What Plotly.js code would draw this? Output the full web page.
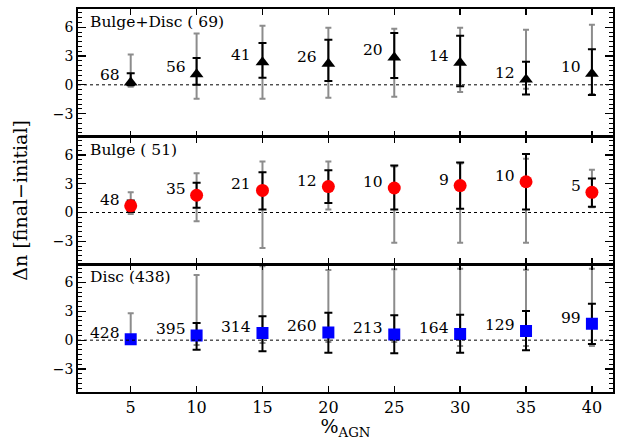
<!DOCTYPE html>
<html><head><meta charset="utf-8">
<script src="https://cdn.plot.ly/plotly-3.0.1.min.js"></script>
<style>html,body{margin:0;padding:0;background:#fff}#chart{width:618px;height:440px}</style>
</head><body><div id="chart"></div>
<script>
const xVals = [5, 10, 15, 20, 25, 30, 35, 40];

// Bulge+Disc (top panel)
const bdY      = [0.25, 1.1, 2.35, 2.2, 2.85, 2.3, 0.55, 1.15];
const bdBlkHi  = [1.2, 2.8, 4.35, 4.7, 5.4, 5.1, 2.4, 3.7];
const bdBlkLo  = [-0.05, 0.0, 0.75, 0.4, 0.7, -0.15, -1.0, -1.05];
const bdGryHi  = [3.15, 5.35, 6.15, 5.95, 5.85, 5.95, 5.75, 6.25];
const bdGryLo  = [-0.2, -1.45, -1.45, -1.35, -1.25, -0.75, -0.4, -0.95];
const bdN      = [68, 56, 41, 26, 20, 14, 12, 10];

// Bulge (middle panel)
const bY       = [0.7, 1.8, 2.3, 2.7, 2.55, 2.8, 3.2, 2.1];
const bBlkHi   = [1.25, 3.1, 4.2, 4.4, 4.9, 5.2, 6.1, 3.55];
const bBlkLo   = [0.05, 0.5, 0.3, 1.0, 0.3, 0.4, 0.3, 0.6];
const bGryHi   = [2.1, 4.1, 5.3, 5.3, 4.8, 5.1, 5.6, 4.45];
const bGryLo   = [-0.15, -0.9, -3.7, 0.3, -3.15, -3.15, -3.15, 0.55];
const bN       = [48, 35, 21, 12, 10, 9, 10, 5];

// Disc (bottom panel)
const dY       = [0.1, 0.5, 0.75, 0.8, 0.6, 0.65, 0.95, 1.7];
const dBlkHi   = [0.4, 1.8, 2.5, 2.85, 2.6, 2.65, 3.05, 3.8];
const dBlkLo   = [-0.3, -1.0, -1.15, -1.3, -1.35, -1.3, -1.05, -0.4];
const dGryHi   = [2.8, 6.8, 7.7, 7.3, 7.4, 7.45, 7.35, 7.45];
const dGryLo   = [-0.3, -0.5, -0.3, -0.2, -0.2, -0.6, -0.6, -0.6];
const dN       = [428, 395, 314, 260, 213, 164, 129, 99];

const panelTitles = ['Bulge+Disc ( 69)', 'Bulge ( 51)', 'Disc (438)'];
const yTickVals = [-3, 0, 3, 6];

const FONT = 'DejaVu Serif, Liberation Serif, serif';
const GRAY = '#8c8c8c';

const panels = [
  {y: bdY, bh: bdBlkHi, bl: bdBlkLo, gh: bdGryHi, gl: bdGryLo, n: bdN, sym: 'triangle-up', col: '#000000', size: 12, xa: 'x3', ya: 'y3', ys: 7},
  {y: bY,  bh: bBlkHi,  bl: bBlkLo,  gh: bGryHi,  gl: bGryLo,  n: bN,  sym: 'circle', col: '#ff0000', size: 13, xa: 'x2', ya: 'y2', ys: 6},
  {y: dY,  bh: dBlkHi,  bl: dBlkLo,  gh: dGryHi,  gl: dGryLo,  n: dN,  sym: 'square', col: '#0000ff', size: 12, xa: 'x', ya: 'y', ys: 6}
];

const traces = [];
const annotations = [];
const shapes = [];
panels.forEach((p, k) => {
  traces.push({
    x: xVals, y: p.y, xaxis: p.xa, yaxis: p.ya, type: 'scatter', mode: 'markers',
    marker: {size: 1, color: 'rgba(0,0,0,0)'}, hoverinfo: 'skip', showlegend: false,
    error_y: {type: 'data', symmetric: false,
      array: p.gh.map((v, i) => v - p.y[i]),
      arrayminus: p.gl.map((v, i) => p.y[i] - v),
      color: GRAY, thickness: 2, width: 3}
  });
  traces.push({
    x: xVals, y: p.y, xaxis: p.xa, yaxis: p.ya, type: 'scatter', mode: 'markers',
    marker: {size: p.size, color: p.col, symbol: p.sym, line: {width: 0}}, showlegend: false,
    error_y: {type: 'data', symmetric: false,
      array: p.bh.map((v, i) => v - p.y[i]),
      arrayminus: p.bl.map((v, i) => p.y[i] - v),
      color: '#000000', thickness: 2, width: 4}
  });
  p.n.forEach((v, i) => {
    annotations.push({
      x: xVals[i], y: p.y[i], xref: p.xa, yref: p.ya, text: String(v),
      showarrow: false, xanchor: 'right', yanchor: 'middle', xshift: -9, yshift: p.ys,
      font: {family: FONT, size: 15.5, color: '#000'}
    });
  });
  const xd = p.xa === 'x' ? 'x domain' : p.xa + ' domain';
  const yd = p.ya === 'y' ? 'y domain' : p.ya + ' domain';
  annotations.push({
    x: 0.018, y: 0.985, xref: xd, yref: yd, text: panelTitles[k],
    showarrow: false, xanchor: 'left', yanchor: 'top',
    font: {family: FONT, size: 15.5, color: '#000'}
  });
  shapes.push({type: 'line', xref: xd, yref: p.ya, x0: 0, x1: 1, y0: 0, y1: 0,
    line: {color: '#000', width: 1, dash: 'dot'}});
});

annotations.push({
  x: -0.11, y: 0.5, xref: 'paper', yref: 'paper', text: 'Δn [final−initial]',
  textangle: -90, showarrow: false, xanchor: 'center', yanchor: 'middle',
  font: {family: FONT, size: 19, color: '#000'}
});

function yax(domain, anchor) {
  return {
    domain: domain, anchor: anchor, range: [-5.4, 7.9], tickvals: yTickVals,
    ticks: 'inside', ticklen: 8, tickwidth: 1.3, tickcolor: '#000',
    showline: true, linecolor: '#000', linewidth: 1.8, mirror: 'allticks',
    showgrid: false, zeroline: false,
    tickfont: {family: FONT, size: 14, color: '#000'},
    minor: {dtick: 0.5, ticks: 'inside', ticklen: 4, tickwidth: 1, tickcolor: '#000', showgrid: false}
  };
}
function xax(anchor, labels) {
  return {
    anchor: anchor, range: [1.0, 41.6], tickvals: xVals,
    ticks: 'inside', ticklen: 6, tickwidth: 1.3, tickcolor: '#000',
    showline: true, linecolor: '#000', linewidth: 1.8, mirror: 'allticks',
    showgrid: false, zeroline: false, showticklabels: labels,
    tickfont: {family: FONT, size: 16, color: '#000'}
  };
}

const layout = {
  width: 618, height: 440,
  margin: {l: 78, r: 5, t: 9, b: 48},
  paper_bgcolor: '#fff', plot_bgcolor: '#fff',
  showlegend: false,
  xaxis: Object.assign(xax('y', true), {title: {text: '%<sub>AGN</sub>', font: {family: FONT, size: 19, color: '#000'}, standoff: 3}}),
  xaxis2: xax('y2', false),
  xaxis3: xax('y3', false),
  yaxis: yax([0, 0.3333], 'x'),
  yaxis2: yax([0.3333, 0.6667], 'x2'),
  yaxis3: yax([0.6667, 1], 'x3'),
  annotations: annotations,
  shapes: shapes
};

Plotly.newPlot('chart', traces, layout, {staticPlot: true, displayModeBar: false});
</script>
</body></html>
